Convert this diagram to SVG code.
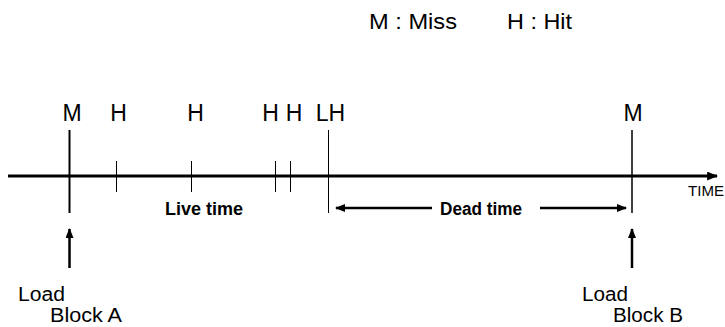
<svg xmlns="http://www.w3.org/2000/svg" width="725" height="327" viewBox="0 0 725 327">
  <style>
    text { font-family: "Liberation Sans", Arial, sans-serif; fill: #000; }
    .ev { font-size: 23px; text-anchor: middle; }
    .legend { font-size: 22px; }
    .span { font-size: 18px; font-weight: bold; text-anchor: middle; }
    .load { font-size: 20px; }
    .axis-label { font-size: 14.5px; }
    .tick { stroke: #000; stroke-width: 1; }
    .mark { stroke: #000; fill: none; }
    .arrow { stroke: #000; stroke-width: 2.5; fill: none; }
  </style>
  <defs>
    <marker id="head" viewBox="0 0 10 8" refX="9" refY="4" markerWidth="10" markerHeight="8" markerUnits="userSpaceOnUse" orient="auto-start-reverse">
      <path d="M0,0 L10,4 L0,8 Z" fill="#000"/>
    </marker>
    <marker id="headAxis" viewBox="0 0 10 8" refX="9" refY="4" markerWidth="11" markerHeight="9" markerUnits="userSpaceOnUse" orient="auto">
      <path d="M0,0 L10,4 L0,8 Z" fill="#000"/>
    </marker>
  </defs>

  <!-- legend -->
  <g id="legend">
    <text class="legend" x="369" y="29" textLength="88" lengthAdjust="spacingAndGlyphs">M : Miss</text>
    <text class="legend" x="507" y="29" textLength="65" lengthAdjust="spacingAndGlyphs">H : Hit</text>
  </g>

  <!-- time axis -->
  <g id="axis">
    <line x1="8" y1="176" x2="717" y2="176" stroke="#000" stroke-width="3" marker-end="url(#headAxis)"/>
    <text class="axis-label" x="688" y="196" textLength="36" lengthAdjust="spacingAndGlyphs">TIME</text>
  </g>

  <!-- access events -->
  <g id="miss-a">
    <text class="ev" x="72" y="121">M</text>
    <line class="mark" x1="69.5" y1="130" x2="69.5" y2="213" stroke-width="2"/>
  </g>
  <g id="hit-1">
    <text class="ev" x="118.5" y="121">H</text>
    <line class="tick" x1="116.5" y1="161" x2="116.5" y2="192"/>
  </g>
  <g id="hit-2">
    <text class="ev" x="195.5" y="121">H</text>
    <line class="tick" x1="191.5" y1="161" x2="191.5" y2="192"/>
  </g>
  <g id="hit-3">
    <text class="ev" x="270.5" y="121">H</text>
    <line class="tick" x1="275.5" y1="161" x2="275.5" y2="192"/>
  </g>
  <g id="hit-4">
    <text class="ev" x="294" y="121">H</text>
    <line class="tick" x1="290.5" y1="161" x2="290.5" y2="192"/>
  </g>
  <g id="last-hit">
    <text class="ev" x="330.5" y="121">LH</text>
    <line class="mark" x1="328.5" y1="130" x2="328.5" y2="213" stroke-width="1"/>
  </g>
  <g id="miss-b">
    <text class="ev" x="633" y="121">M</text>
    <line class="mark" x1="632" y1="130" x2="632" y2="213" stroke-width="1.5"/>
  </g>

  <!-- intervals -->
  <g id="live-time">
    <text class="span" x="204" y="215">Live time</text>
  </g>
  <g id="dead-time">
    <text class="span" x="481" y="215" textLength="82" lengthAdjust="spacingAndGlyphs">Dead time</text>
  </g>

  <!-- block loads -->
  <g id="load-a">
    <text class="load" x="18" y="301" textLength="47" lengthAdjust="spacingAndGlyphs">Load</text>
    <text class="load" x="50" y="322" textLength="72" lengthAdjust="spacingAndGlyphs">Block A</text>
  </g>
  <g id="load-b">
    <text class="load" x="582" y="301" textLength="46" lengthAdjust="spacingAndGlyphs">Load</text>
    <text class="load" x="613" y="322" textLength="70" lengthAdjust="spacingAndGlyphs">Block B</text>
  </g>

  <!-- connectors -->
  <g id="connectors">
    <line class="arrow" x1="432" y1="208" x2="336" y2="208" marker-end="url(#head)"/>
    <line class="arrow" x1="540" y1="208" x2="626" y2="208" marker-end="url(#head)"/>
    <line class="arrow" x1="69.5" y1="268" x2="69.5" y2="229" marker-end="url(#head)"/>
    <line class="arrow" x1="632" y1="268" x2="632" y2="229" marker-end="url(#head)"/>
  </g>
</svg>
